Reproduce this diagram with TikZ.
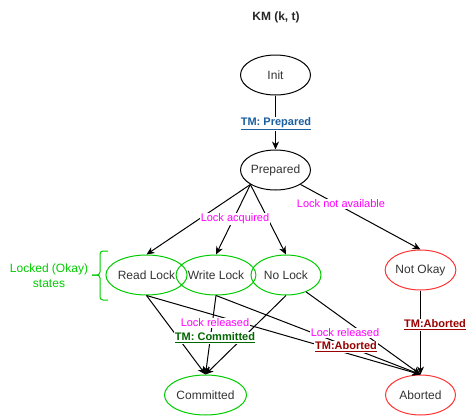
\documentclass[tikz,border=0pt]{standalone}
\usepackage{fontspec}
\setmainfont{Liberation Sans}
\usetikzlibrary{arrows.meta,shapes.geometric}
\definecolor{okgreen}{HTML}{00CC00}
\definecolor{badred}{HTML}{FF3333}
\definecolor{lockmag}{HTML}{FF00FF}
\definecolor{tmblue}{HTML}{1A5FA0}
\definecolor{tmgreen}{HTML}{006600}
\definecolor{tmred}{HTML}{990000}
\begin{document}
\begin{tikzpicture}[x=1pt,y=-1pt,
  font=\fontsize{12}{14}\selectfont,
  state/.style={ellipse,draw,line width=1pt,minimum width=70pt,minimum height=40pt,inner sep=0pt,text=black!80},
  okstate/.style={state,draw=okgreen},
  badstate/.style={state,draw=badred},
  link/.style={line width=1pt,-{Stealth[length=8pt,width=7pt,inset=2.5pt]}},
  edgelabel/.style={fill=white,inner sep=1pt,font=\fontsize{11}{13}\selectfont},
  locklbl/.style={edgelabel,text=lockmag},
  tmlbl/.style={edgelabel,font=\fontsize{11}{13}\selectfont\bfseries}
]
\useasboundingbox (0,0) rectangle (467,416);

% title
\node[font=\fontsize{12}{14}\selectfont\bfseries,text=black!85] (title) at (276,17) {KM (k, t)};

% states
\node[state] (init) at (275.5,75) {Init};
\node[state] (prep) at (275.5,170) {Prepared};
\node[okstate,minimum width=73pt] (read) at (146.5,275) {Read Lock};
\node[okstate] (write) at (216,275) {Write Lock};
\node[okstate] (nolock) at (286,275) {No Lock};
\node[badstate] (notokay) at (420.5,270) {Not Okay};
\node[okstate] (committed) at (205.5,395) {Committed};
\node[badstate] (aborted) at (420.5,395) {Aborted};

% transitions
\draw[link] (init) -- (prep);
\draw[link] (prep.south west) -- (read.north);
\draw[link] (prep.south west) -- (write.north);
\draw[link] (prep.south west) -- (nolock.north);
\draw[link] (prep.south east) -- (notokay.north);
\draw[link] (notokay) -- (aborted);
\draw[link] (read.south) -- (committed.north);
\draw[link] (write.south) -- (committed.north);
\draw[link] (nolock.south) -- (committed.north);
\draw[link] (read.south) -- (aborted.north);
\draw[link] (write.south) -- (aborted.north);
\draw[link] (nolock.-40) -- (aborted.north);

% transition labels
\node[tmlbl,text=tmblue] (lblprep) at (276,124) {\underline{TM: Prepared}};
\node[locklbl] (lblacq) at (235,219) {Lock acquired};
\node[locklbl] (lblna) at (341,204) {Lock not available};
\node[locklbl] (lblrelc) at (215,323) {Lock released};
\node[tmlbl,text=tmgreen] (lblcom) at (215,338) {\underline{TM: Committed}};
\node[locklbl] (lblrela) at (345,333) {Lock released};
\node[tmlbl,text=tmred] (lblab) at (346,347) {\underline{TM:Aborted}};
\node[tmlbl,text=tmred] (lblab2) at (435,325) {\underline{TM:Aborted}};

% group brace and caption
\draw[okgreen,line width=1pt,rounded corners=3pt] (108,251) -- (100,251) -- (100,275) -- (92,275);
\draw[okgreen,line width=1pt,rounded corners=3pt] (108,300) -- (100,300) -- (100,275) -- (92,275);
\node[text=okgreen,align=center,font=\fontsize{12}{15}\selectfont] (group) at (49,275.5) {Locked (Okay)\\states};
\end{tikzpicture}
\end{document}
